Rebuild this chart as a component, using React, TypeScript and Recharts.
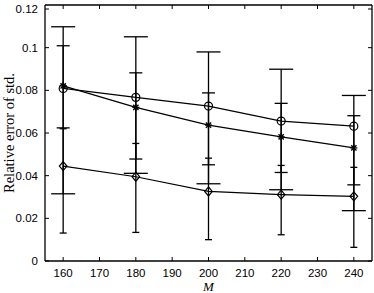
import React from 'react';
import { ComposedChart, Line, XAxis, YAxis, ErrorBar } from 'recharts';

const mValues = [160, 180, 200, 220, 240];
const xTicks = [160, 170, 180, 190, 200, 210, 220, 230, 240];
const yTicks = [0, 0.02, 0.04, 0.06, 0.08, 0.1, 0.12];
const yTickLabels = ['0', '0.02', '0.04', '0.06', '0.08', '0.1', '0.12'];

// circle series (wide caps)
const circleMean = [0.0809, 0.0767, 0.0726, 0.0656, 0.0632];
const circleUpper = [0.1098, 0.1051, 0.098, 0.0899, 0.0776];
const circleLower = [0.0315, 0.0411, 0.0362, 0.0334, 0.0236];

// star series (medium caps)
const starMean = [0.0821, 0.072, 0.0637, 0.0582, 0.053];
const starUpper = [0.1009, 0.0882, 0.0788, 0.0739, 0.0681];
const starLower = [0.0624, 0.0478, 0.0451, 0.0415, 0.0357];

// diamond series (narrow caps)
const diamondMean = [0.0445, 0.0395, 0.0326, 0.0311, 0.0303];
const diamondUpper = [0.062, 0.0551, 0.0482, 0.0448, 0.0439];
const diamondLower = [0.0131, 0.0134, 0.01, 0.0123, 0.0064];

const data = mValues.map((m, i) => ({
  m,
  circle: circleMean[i],
  circleErr: [circleMean[i] - circleLower[i], circleUpper[i] - circleMean[i]],
  star: starMean[i],
  starErr: [starMean[i] - starLower[i], starUpper[i] - starMean[i]],
  diamond: diamondMean[i],
  diamondErr: [diamondMean[i] - diamondLower[i], diamondUpper[i] - diamondMean[i]],
}));

const TICK_LEN = 4;
const X_MARGIN = 12;
const Y_MARGIN = 11;
const tickFont = { fontSize: 11.5, fill: '#000', fontFamily: 'Liberation Sans, Arial, sans-serif' };
const labelFont = { fontSize: 14.5, fill: '#000', fontFamily: 'Liberation Serif, Times New Roman, serif' };

// ticks point inward, so the tick mark is drawn by hand next to the label
const BottomTick = ({ x, y, payload }: any) => (
  <g>
    <line x1={x} x2={x} y1={y - X_MARGIN} y2={y - X_MARGIN + TICK_LEN} stroke="#000" strokeWidth={1} />
    <text x={x} y={y} dy="0.71em" textAnchor="middle" {...tickFont}>{payload.value}</text>
  </g>
);

const LeftTick = ({ x, y, payload }: any) => (
  <g>
    <line x1={x + Y_MARGIN} x2={x + Y_MARGIN - TICK_LEN} y1={y} y2={y} stroke="#000" strokeWidth={1} />
    <text x={x} y={y} dy="0.36em" textAnchor="end" {...tickFont}>
      {yTickLabels[yTicks.indexOf(payload.value)] ?? payload.value}
    </text>
  </g>
);

const TopTick = ({ x, y }: any) => (
  <line x1={x} x2={x} y1={y} y2={y - TICK_LEN} stroke="#000" strokeWidth={1} />
);

const RightTick = ({ x, y }: any) => (
  <line x1={x} x2={x + TICK_LEN} y1={y} y2={y} stroke="#000" strokeWidth={1} />
);

const CircleDot = (props: any) => {
  const { cx, cy, index } = props;
  return <circle key={`c${index}`} cx={cx} cy={cy} r={4} fill="none" stroke="#000" strokeWidth={1.2} />;
};

const DiamondDot = (props: any) => {
  const { cx, cy, index } = props;
  const pts = `${cx},${cy - 4.5} ${cx + 3.8},${cy} ${cx},${cy + 4.5} ${cx - 3.8},${cy}`;
  return <polygon key={`d${index}`} points={pts} fill="none" stroke="#000" strokeWidth={1.2} />;
};

const StarDot = (props: any) => {
  const { cx, cy, index } = props;
  const r = 3.5;
  const d = r * 0.75;
  return (
    <g key={`s${index}`} stroke="#000" strokeWidth={1.3}>
      <line x1={cx - r} y1={cy} x2={cx + r} y2={cy} />
      <line x1={cx} y1={cy - r} x2={cx} y2={cy + r} />
      <line x1={cx - d} y1={cy - d} x2={cx + d} y2={cy + d} />
      <line x1={cx - d} y1={cy + d} x2={cx + d} y2={cy - d} />
    </g>
  );
};

export default function App() {
  return (
    <div style={{ position: 'absolute', left: 0, top: 0, background: '#fff' }}>
      <ComposedChart width={374} height={293} data={data} margin={{ top: 4, right: 1, left: 0, bottom: 0 }}>
        <XAxis
          dataKey="m"
          type="number"
          domain={[155, 245]}
          ticks={xTicks}
          allowDataOverflow
          height={32}
          tickSize={-TICK_LEN}
          tickMargin={X_MARGIN}
          tickLine={false}
          stroke="#000"
          strokeWidth={1.3}
          tick={BottomTick}
          label={{ value: 'M', position: 'insideBottom', offset: 2, style: { ...labelFont, fontStyle: 'italic', fontSize: 13 } }}
        />
        <XAxis
          xAxisId="top"
          orientation="top"
          dataKey="m"
          type="number"
          domain={[155, 245]}
          ticks={xTicks}
          allowDataOverflow
          height={1}
          tickSize={-TICK_LEN}
          tickMargin={0}
          tickLine={false}
          stroke="#000"
          strokeWidth={1.3}
          tick={TopTick}
        />
        <YAxis
          type="number"
          domain={[0, 0.12]}
          ticks={yTicks}
          allowDataOverflow
          width={45}
          tickSize={-TICK_LEN}
          tickMargin={Y_MARGIN}
          tickLine={false}
          stroke="#000"
          strokeWidth={1.3}
          tick={LeftTick}
          label={{ value: 'Relative error of std.', angle: -90, position: 'insideLeft', offset: 9, style: { ...labelFont, textAnchor: 'middle' } }}
        />
        <YAxis
          yAxisId="right"
          orientation="right"
          type="number"
          domain={[0, 0.12]}
          ticks={yTicks}
          allowDataOverflow
          width={1}
          tickSize={-TICK_LEN}
          tickMargin={0}
          tickLine={false}
          stroke="#000"
          strokeWidth={1.3}
          tick={RightTick}
        />
        <Line dataKey="circle" stroke="#000" strokeWidth={1.2} dot={CircleDot} isAnimationActive={false}>
          <ErrorBar dataKey="circleErr" direction="y" width={12} stroke="#000" strokeWidth={1.3} />
        </Line>
        <Line dataKey="star" stroke="#000" strokeWidth={1.2} dot={StarDot} isAnimationActive={false}>
          <ErrorBar dataKey="starErr" direction="y" width={6.5} stroke="#000" strokeWidth={1.3} />
        </Line>
        <Line dataKey="diamond" stroke="#000" strokeWidth={1.2} dot={DiamondDot} isAnimationActive={false}>
          <ErrorBar dataKey="diamondErr" direction="y" width={3.5} stroke="#000" strokeWidth={1.3} />
        </Line>
      </ComposedChart>
    </div>
  );
}
